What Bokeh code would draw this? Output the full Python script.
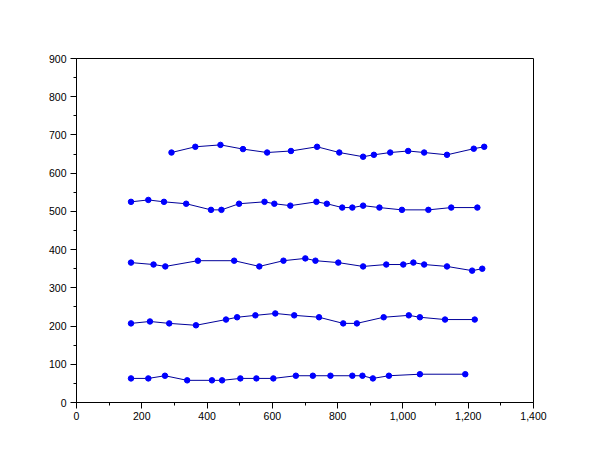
from bokeh.plotting import figure
from bokeh.models import Range1d, NumeralTickFormatter, FixedTicker
from bokeh.embed import file_html
from bokeh.resources import INLINE

s1_x = [291, 364, 441, 510, 584, 657, 737, 805, 878, 911, 961, 1016, 1065, 1135, 1217, 1249]
s1_y = [654, 669, 674, 663, 654, 658, 669, 654, 643, 648, 654, 658, 654, 648, 664, 669]

s2_x = [167, 220, 268, 336, 412, 444, 498, 576, 606, 655, 735, 767, 814, 845, 878, 928, 997, 1078, 1148, 1228]
s2_y = [525, 530, 525, 520, 504, 504, 520, 525, 520, 515, 525, 520, 510, 510, 515, 510, 504, 504, 510, 510]

s3_x = [167, 236, 272, 372, 483, 560, 634, 701, 732, 802, 878, 949, 1001, 1032, 1065, 1135, 1212, 1243]
s3_y = [366, 361, 356, 371, 371, 356, 371, 377, 371, 366, 356, 361, 361, 366, 361, 356, 345, 350]

s4_x = [167, 225, 284, 366, 458, 492, 548, 609, 667, 743, 817, 859, 941, 1018, 1052, 1129, 1220]
s4_y = [207, 212, 207, 202, 217, 223, 228, 233, 228, 223, 207, 207, 223, 228, 223, 217, 217]

s5_x = [167, 220, 271, 339, 415, 446, 502, 551, 603, 672, 724, 778, 845, 876, 908, 957, 1052, 1191]
s5_y = [63, 63, 70, 58, 58, 58, 63, 63, 63, 70, 70, 70, 70, 70, 63, 70, 74, 74]

x_ticks = [0, 200, 400, 600, 800, 1000, 1200, 1400]
y_ticks = [0, 100, 200, 300, 400, 500, 600, 700, 800, 900]

p = figure(width=594, height=444, output_backend="svg", toolbar_location=None,
           x_range=Range1d(0, 1400), y_range=Range1d(0, 900),
           min_border_left=76, min_border_right=61, min_border_top=58, min_border_bottom=42)
p.background_fill_color = "white"
p.border_fill_color = "white"
p.outline_line_color = "black"
p.outline_line_width = 1
p.grid.visible = False

for xs, ys in [(s1_x, s1_y), (s2_x, s2_y), (s3_x, s3_y), (s4_x, s4_y), (s5_x, s5_y)]:
    p.line(xs, ys, line_color="#000099", line_width=1)
    p.scatter(xs, ys, size=5.5, fill_color="#0000ff", line_color="#0000ff")

p.xaxis.ticker = FixedTicker(ticks=x_ticks, minor_ticks=[100, 300, 500, 700, 900, 1100, 1300])
p.yaxis.ticker = FixedTicker(ticks=y_ticks, minor_ticks=[50, 150, 250, 350, 450, 550, 650, 750, 850])
p.xaxis.formatter = NumeralTickFormatter(format="0,0")

for ax in [p.xaxis[0], p.yaxis[0]]:
    ax.axis_line_color = "black"
    ax.major_tick_line_color = "black"
    ax.minor_tick_line_color = "black"
    ax.major_tick_in = 0
    ax.major_tick_out = 6
    ax.minor_tick_in = 0
    ax.minor_tick_out = 3
    ax.major_label_text_font = "Liberation Sans"
    ax.major_label_text_font_size = "10.5px"
    ax.major_label_text_color = "black"
p.xaxis.major_label_standoff = 3
p.yaxis.major_label_standoff = 4

open("out.html", "w").write(file_html(p, INLINE))
